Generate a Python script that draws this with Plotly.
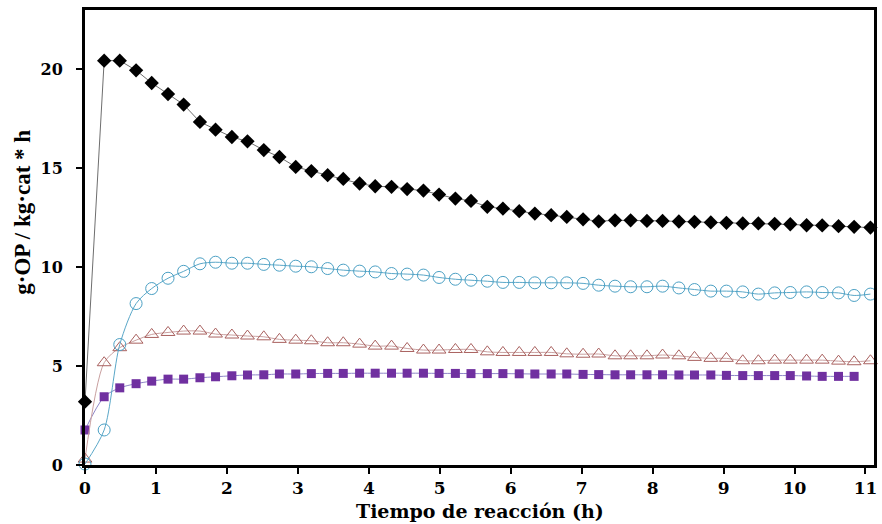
import plotly.graph_objects as go

# Reaction time (h)
tiempo = [0, 0.27, 0.49, 0.72, 0.94, 1.17, 1.39, 1.62, 1.84, 2.07, 2.29, 2.52, 2.74,
          2.97, 3.19, 3.42, 3.64, 3.87, 4.09, 4.32, 4.54, 4.77, 4.99, 5.22, 5.44, 5.67,
          5.89, 6.12, 6.34, 6.57, 6.79, 7.02, 7.24, 7.47, 7.69, 7.92, 8.14, 8.37, 8.59,
          8.82, 9.04, 9.27, 9.49, 9.72, 9.94, 10.17, 10.39, 10.62, 10.84, 11.07]

serie_rombos = [3.2, 20.44, 20.44, 19.95, 19.31, 18.75, 18.22, 17.34, 16.95, 16.58, 16.36, 15.92, 15.57,
                15.07, 14.86, 14.65, 14.46, 14.23, 14.09, 14.06, 13.95, 13.87, 13.67, 13.47, 13.35, 13.05,
                12.96, 12.83, 12.71, 12.63, 12.54, 12.42, 12.32, 12.37, 12.37, 12.34, 12.34, 12.31, 12.29,
                12.26, 12.24, 12.21, 12.21, 12.19, 12.17, 12.12, 12.11, 12.07, 12.04, 12.0]

serie_circulos = [0.05, 1.77, 6.09, 8.16, 8.92, 9.44, 9.79, 10.17, 10.25, 10.2, 10.2, 10.14, 10.1,
                  10.05, 10.02, 9.93, 9.85, 9.8, 9.76, 9.68, 9.65, 9.6, 9.48, 9.39, 9.34, 9.29,
                  9.23, 9.23, 9.21, 9.21, 9.21, 9.18, 9.09, 9.04, 9.01, 9.01, 9.04, 8.95, 8.87,
                  8.79, 8.79, 8.75, 8.64, 8.7, 8.72, 8.75, 8.72, 8.7, 8.57, 8.64]

serie_triangulos = [0.3, 5.17, 5.93, 6.31, 6.6, 6.7, 6.77, 6.77, 6.62, 6.57, 6.52, 6.48, 6.35,
                    6.31, 6.28, 6.18, 6.18, 6.11, 6.01, 6.01, 5.89, 5.81, 5.81, 5.84, 5.84, 5.72,
                    5.69, 5.69, 5.69, 5.69, 5.62, 5.6, 5.61, 5.52, 5.52, 5.52, 5.56, 5.52, 5.44,
                    5.39, 5.39, 5.27, 5.27, 5.3, 5.3, 5.3, 5.3, 5.25, 5.22, 5.27]

serie_cuadrados = [1.77, 3.45, 3.9, 4.11, 4.24, 4.34, 4.34, 4.41, 4.46, 4.51, 4.55, 4.56, 4.6,
                   4.6, 4.62, 4.63, 4.63, 4.64, 4.64, 4.64, 4.64, 4.64, 4.63, 4.63, 4.62, 4.62,
                   4.62, 4.61, 4.6, 4.6, 4.6, 4.58, 4.57, 4.56, 4.56, 4.56, 4.56, 4.55, 4.55,
                   4.55, 4.53, 4.52, 4.52, 4.52, 4.52, 4.5, 4.48, 4.48, 4.48]

x_ticks = list(range(0, 12))
y_ticks = [0, 5, 10, 15, 20]

WIDE = "DejaVu Serif"
SERIF = "Liberation Serif"

fig = go.Figure()

fig.add_trace(go.Scatter(
    x=tiempo[:len(serie_cuadrados)], y=serie_cuadrados, mode="lines+markers",
    line=dict(color="#8E86C8", width=1, shape="spline", smoothing=0.8),
    marker=dict(symbol="square", size=9, color="#7030A0"),
    cliponaxis=False, showlegend=False))

fig.add_trace(go.Scatter(
    x=tiempo, y=serie_triangulos, mode="lines+markers",
    line=dict(color="#C9A0A0", width=1, shape="spline", smoothing=0.8),
    marker=dict(symbol="triangle-up-open", size=12, color="#A9615F", line=dict(width=1)),
    cliponaxis=False, showlegend=False))

fig.add_trace(go.Scatter(
    x=tiempo, y=serie_circulos, mode="lines+markers",
    line=dict(color="#5AA7C8", width=1, shape="spline", smoothing=0.8),
    marker=dict(symbol="circle-open", size=12, color="#4BA0C4", line=dict(width=1)),
    cliponaxis=False, showlegend=False))

fig.add_trace(go.Scatter(
    x=tiempo, y=serie_rombos, mode="lines+markers",
    line=dict(color="#6E6E6E", width=1),
    marker=dict(symbol="diamond", size=11, color="#000000"),
    cliponaxis=False, showlegend=False))

axis_common = dict(showline=True, linecolor="black", linewidth=3, mirror=True,
                   ticks="outside", ticklen=6, tickwidth=2, tickcolor="black",
                   showgrid=False, zeroline=False)

fig.update_xaxes(range=[0, 11.12], tickvals=x_ticks, ticklabelstandoff=0,
                 tickfont=dict(family=WIDE, size=17, color="black", weight="bold"),
                 **axis_common)
fig.update_yaxes(range=[0, 23], tickvals=y_ticks, ticklabelstandoff=10,
                 tickfont=dict(family=WIDE, size=16, color="black", weight="bold"),
                 **axis_common)

fig.add_annotation(text="Tiempo de reacción (h)", xref="paper", yref="paper",
                   x=0.5, y=-0.101, xanchor="center", yanchor="middle", showarrow=False,
                   font=dict(family=WIDE, size=19, color="black", weight="bold"))
fig.add_annotation(text="g·OP / kg·cat * h", xref="paper", yref="paper",
                   x=-0.0795, y=0.555, xanchor="center", yanchor="middle", showarrow=False,
                   textangle=-90,
                   font=dict(family=SERIF, size=23, color="black", weight="bold"))

fig.update_layout(width=882, height=524, plot_bgcolor="white", paper_bgcolor="white",
                  margin=dict(l=85, r=5, t=10, b=59))

# remove the default 8 px page margin so the figure sits at the window's corner
fig.write_html("out.html", config={"displayModeBar": False},
               post_script="document.body.style.margin='0';")
